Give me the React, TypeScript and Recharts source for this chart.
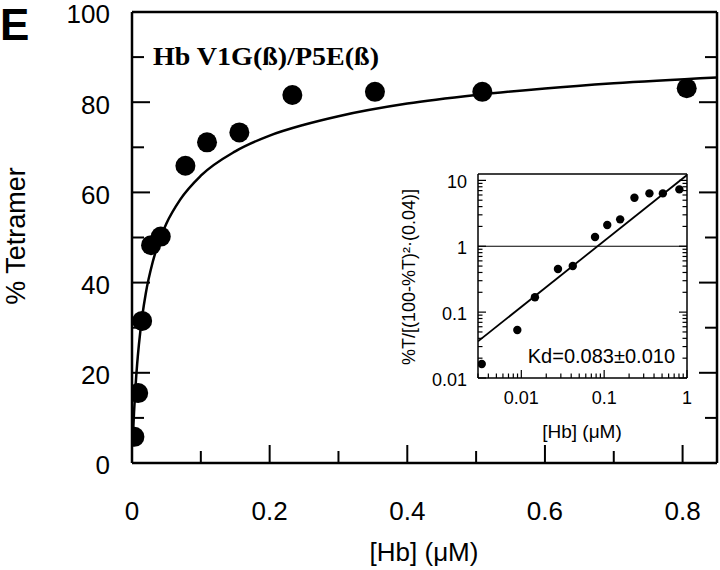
import React from 'react';
import { ComposedChart, Line, Scatter, XAxis, YAxis, ReferenceLine } from 'recharts';

// ---- main panel data ----
const hbConc = [0.0035, 0.009, 0.0147, 0.0277, 0.0418, 0.0776, 0.109, 0.156, 0.233, 0.353, 0.509, 0.806];
const pctTetramer = [5.8, 15.5, 31.5, 48.3, 50.2, 65.9, 71.1, 73.3, 81.6, 82.3, 82.3, 83.1];
const fitConc = [0.001, 0.002, 0.003, 0.005, 0.0075, 0.01, 0.015, 0.02, 0.03, 0.04, 0.05, 0.07, 0.1, 0.15, 0.2, 0.25, 0.3, 0.4, 0.5, 0.6, 0.7, 0.85];
const fitPct = [4.4, 8.1, 11.4, 16.7, 22.0, 26.2, 32.7, 37.6, 44.5, 49.4, 53.1, 58.4, 63.7, 69.1, 72.6, 75.0, 76.9, 79.7, 81.6, 83.05, 84.2, 85.5];

const mainXTicks = [0, 0.1, 0.2, 0.3, 0.4, 0.5, 0.6, 0.7, 0.8];
const mainXMajor = [0, 0.2, 0.4, 0.6, 0.8];
const mainXLabels = ['0', '0.2', '0.4', '0.6', '0.8'];
const mainYTicks = [0, 10, 20, 30, 40, 50, 60, 70, 80, 90, 100];
const mainYMajor = [0, 20, 40, 60, 80, 100];
const mainYLabels = ['0', '20', '40', '60', '80', '100'];

// ---- inset data ----
const insetConc = [0.00333, 0.00895, 0.0146, 0.0277, 0.0418, 0.0776, 0.109, 0.156, 0.232, 0.352, 0.511, 0.809];
const insetRatio = [0.0163, 0.0535, 0.168, 0.451, 0.501, 1.38, 2.1, 2.56, 5.45, 6.35, 6.35, 7.3];
const insetFitConc = [0.003, 1];
const insetFitRatio = [0.036, 12.05];

const insetXTicks = [0.003, 0.004, 0.005, 0.006, 0.007, 0.008, 0.009, 0.01, 0.02, 0.03, 0.04, 0.05, 0.06, 0.07, 0.08, 0.09, 0.1, 0.2, 0.3, 0.4, 0.5, 0.6, 0.7, 0.8, 0.9, 1];
const insetXMajor = [0.01, 0.1, 1];
const insetXLabels = ['0.01', '0.1', '1'];
const insetYTicks = [0.01, 0.02, 0.03, 0.04, 0.05, 0.06, 0.07, 0.08, 0.09, 0.1, 0.2, 0.3, 0.4, 0.5, 0.6, 0.7, 0.8, 0.9, 1, 2, 3, 4, 5, 6, 7, 8, 9, 10];
const insetYMajor = [0.01, 0.1, 1, 10];
const insetYLabels = ['0.01', '0.1', '1', '10'];

const mainPoints = hbConc.map((x, i) => ({ x, y: pctTetramer[i] }));
const mainFit = fitConc.map((x, i) => ({ x, y: fitPct[i] }));
const insetPoints = insetConc.map((x, i) => ({ x, y: insetRatio[i] }));
const insetFit = insetFitConc.map((x, i) => ({ x, y: insetFitRatio[i] }));

const SANS = '"Liberation Sans", Arial, Helvetica, sans-serif';
const SERIF = '"Liberation Serif", "Times New Roman", serif';

type Side = 'bottom' | 'top' | 'left' | 'right';

function makeTick(
  side: Side,
  majors: number[],
  labels: string[] | null,
  majorLen: number,
  minorLen: number,
  sw: number,
  fontSize: number,
  labelOffset: number
) {
  return (props: any) => {
    const { x, y, payload } = props;
    const v = payload.value;
    const idx = majors.indexOf(v);
    const len = idx >= 0 ? majorLen : minorLen;
    let line: React.ReactNode = null;
    let label: React.ReactNode = null;
    if (side === 'bottom') {
      line = <line x1={x} x2={x} y1={y} y2={y - len} stroke="#000" strokeWidth={sw} />;
      if (labels && idx >= 0)
        label = (
          <text x={x} y={y + labelOffset} textAnchor="middle" fontSize={fontSize} fontFamily={SANS} fill="#000">
            {labels[idx]}
          </text>
        );
    } else if (side === 'top') {
      line = <line x1={x} x2={x} y1={y} y2={y + len} stroke="#000" strokeWidth={sw} />;
    } else if (side === 'left') {
      line = <line x1={x} x2={x + len} y1={y} y2={y} stroke="#000" strokeWidth={sw} />;
      if (labels && idx >= 0)
        label = (
          <text x={x - labelOffset} y={y + fontSize * 0.44} textAnchor="end" fontSize={fontSize} fontFamily={SANS} fill="#000">
            {labels[idx]}
          </text>
        );
    } else {
      line = <line x1={x} x2={x - len} y1={y} y2={y} stroke="#000" strokeWidth={sw} />;
    }
    return (
      <g>
        {line}
        {label}
      </g>
    );
  };
}

const mainAxisLine = { stroke: '#000', strokeWidth: 2.5 };
const insetAxisLine = { stroke: '#000', strokeWidth: 1.5 };

const Dot = (r: number) => (p: any) => <circle cx={p.cx} cy={p.cy} r={r} fill="#000" />;

export default function App() {
  return (
    <div style={{ position: 'absolute', left: 0, top: 0, width: 720, height: 570, background: '#fff' }}>
      <div style={{ position: 'absolute', left: 0, top: 0 }}>
        <ComposedChart width={720} height={570} margin={{ top: 11, right: 2, bottom: 106, left: 131 }}>
          <XAxis
            xAxisId="b"
            type="number"
            dataKey="x"
            domain={[0, 0.85]}
            allowDataOverflow
            ticks={mainXTicks}
            interval={0}
            height={1}
            tickSize={0}
            tickMargin={0}
            tickLine={false}
            axisLine={mainAxisLine}
            tick={makeTick('bottom', mainXMajor, mainXLabels, 18, 12, 2, 26, 57)}
          />
          <XAxis
            xAxisId="t"
            orientation="top"
            type="number"
            domain={[0, 0.85]}
            allowDataOverflow
            ticks={mainXTicks}
            interval={0}
            height={1}
            tickSize={0}
            tickMargin={0}
            tickLine={false}
            axisLine={mainAxisLine}
            tick={makeTick('top', mainXMajor, null, 18, 12, 2, 26, 0)}
          />
          <YAxis
            yAxisId="l"
            type="number"
            dataKey="y"
            domain={[0, 100]}
            allowDataOverflow
            ticks={mainYTicks}
            interval={0}
            width={1}
            tickSize={0}
            tickMargin={0}
            tickLine={false}
            axisLine={mainAxisLine}
            tick={makeTick('left', mainYMajor, mainYLabels, 18, 12, 2, 26, 22)}
          />
          <YAxis
            yAxisId="r"
            orientation="right"
            type="number"
            domain={[0, 100]}
            allowDataOverflow
            ticks={mainYTicks}
            interval={0}
            width={1}
            tickSize={0}
            tickMargin={0}
            tickLine={false}
            axisLine={mainAxisLine}
            tick={makeTick('right', mainYMajor, null, 18, 12, 2, 26, 0)}
          />
          <Line
            xAxisId="b"
            yAxisId="l"
            data={mainFit}
            dataKey="y"
            type="monotone"
            stroke="#000"
            strokeWidth={2.5}
            dot={false}
            activeDot={false}
            isAnimationActive={false}
          />
          <Scatter
            xAxisId="b"
            yAxisId="l"
            data={mainPoints}
            dataKey="y"
            fill="#000"
            shape={Dot(10)}
            isAnimationActive={false}
          />
        </ComposedChart>
      </div>

      <div style={{ position: 'absolute', left: 400, top: 150 }}>
        <ComposedChart width={300} height={300} margin={{ top: 23, right: 12, bottom: 71, left: 77 }}>
          <XAxis
            xAxisId="b"
            type="number"
            scale="log"
            dataKey="x"
            domain={[0.003, 1]}
            allowDataOverflow
            ticks={insetXTicks}
            interval={0}
            height={1}
            tickSize={0}
            tickMargin={0}
            tickLine={false}
            axisLine={insetAxisLine}
            tick={makeTick('bottom', insetXMajor, insetXLabels, 8, 4.5, 1.2, 18, 26)}
          />
          <XAxis
            xAxisId="t"
            orientation="top"
            type="number"
            scale="log"
            domain={[0.003, 1]}
            allowDataOverflow
            ticks={insetXTicks}
            interval={0}
            height={1}
            tickSize={0}
            tickMargin={0}
            tickLine={false}
            axisLine={insetAxisLine}
            tick={makeTick('top', insetXMajor, null, 8, 4.5, 1.2, 18, 0)}
          />
          <YAxis
            yAxisId="l"
            type="number"
            scale="log"
            dataKey="y"
            domain={[0.01, 12.5]}
            allowDataOverflow
            ticks={insetYTicks}
            interval={0}
            width={1}
            tickSize={0}
            tickMargin={0}
            tickLine={false}
            axisLine={insetAxisLine}
            tick={makeTick('left', insetYMajor, insetYLabels, 8, 4.5, 1.2, 18, 11)}
          />
          <YAxis
            yAxisId="r"
            orientation="right"
            type="number"
            scale="log"
            domain={[0.01, 12.5]}
            allowDataOverflow
            ticks={insetYTicks}
            interval={0}
            width={1}
            tickSize={0}
            tickMargin={0}
            tickLine={false}
            axisLine={insetAxisLine}
            tick={makeTick('right', insetYMajor, null, 8, 4.5, 1.2, 18, 0)}
          />
          <ReferenceLine xAxisId="b" yAxisId="l" y={1} stroke="#000" strokeWidth={1.2} />
          <Line
            xAxisId="b"
            yAxisId="l"
            data={insetFit}
            dataKey="y"
            type="linear"
            stroke="#000"
            strokeWidth={1.8}
            dot={false}
            activeDot={false}
            isAnimationActive={false}
          />
          <Scatter
            xAxisId="b"
            yAxisId="l"
            data={insetPoints}
            dataKey="y"
            fill="#000"
            shape={Dot(4.2)}
            isAnimationActive={false}
          />
        </ComposedChart>
      </div>

      <svg width={720} height={570} style={{ position: 'absolute', left: 0, top: 0, pointerEvents: 'none' }}>
        <text x={0} y={40} fontSize={44} fontWeight="bold" fontFamily={SANS} fill="#000">E</text>
        <text x={153} y={65} fontSize={25} fontWeight="bold" fontFamily={SERIF} fill="#000" textLength={226} lengthAdjust="spacingAndGlyphs">Hb V1G(ß)/P5E(ß)</text>
        <text x={25} y={236} transform="rotate(-90, 25, 236)" textAnchor="middle" fontSize={27} fontFamily={SANS} fill="#000">% Tetramer</text>
        <text x={424} y={561} textAnchor="middle" fontSize={26} fontFamily={SANS} fill="#000">[Hb] (μM)</text>
        <text x={415} y={277} transform="rotate(-90, 415, 277)" textAnchor="middle" fontSize={18} fontFamily={SANS} fill="#000">%T/[(100-%T)²·(0.04)]</text>
        <text x={582} y={438} textAnchor="middle" fontSize={19} fontFamily={SANS} fill="#000">[Hb] (μM)</text>
        <text x={675} y={363} textAnchor="end" fontSize={20} fontFamily={SANS} fill="#000">Kd=0.083±0.010</text>
      </svg>
    </div>
  );
}
